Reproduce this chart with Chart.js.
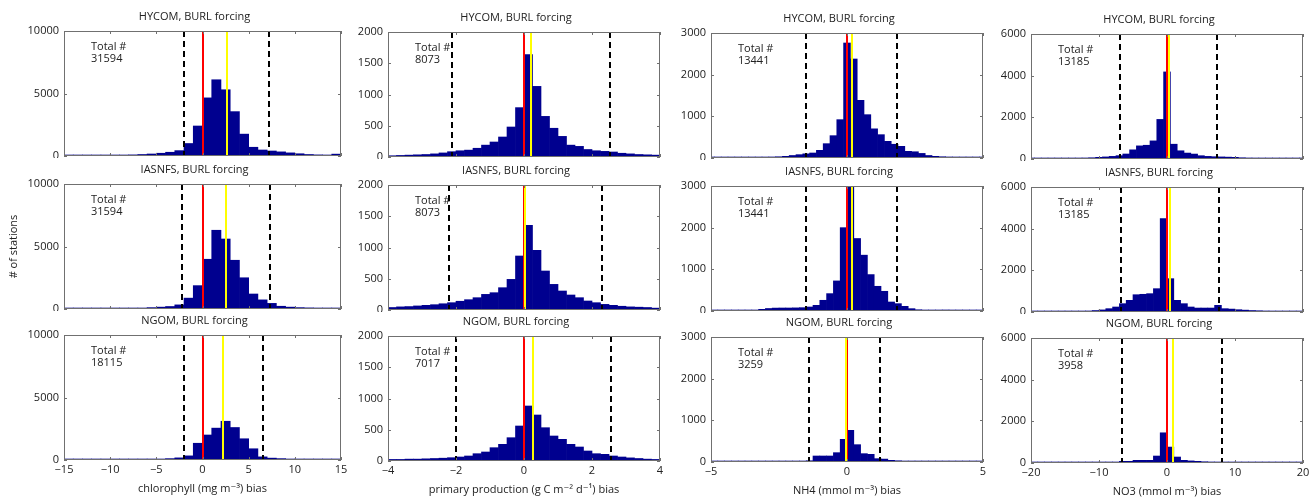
<!DOCTYPE html>
<html>
<head>
<meta charset="utf-8">
<script src="https://cdn.jsdelivr.net/npm/chart.js@4.4.1/dist/chart.umd.min.js"></script>
<style>
  html, body { margin: 0; padding: 0; background: #fff; }
  #fig { position: relative; width: 1314px; height: 502px; overflow: hidden; }
  #fig canvas { position: absolute; }
</style>
</head>
<body>
<div id="fig"></div>
<script>
// bin centres
const chlBins = [-14.5,-13.5,-12.5,-11.5,-10.5,-9.5,-8.5,-7.5,-6.5,-5.5,-4.5,-3.5,-2.5,-1.5,-0.5,
                 0.5,1.5,2.5,3.5,4.5,5.5,6.5,7.5,8.5,9.5,10.5,11.5,12.5,13.5,14.5];
const ppBins = [-3.875,-3.625,-3.375,-3.125,-2.875,-2.625,-2.375,-2.125,-1.875,-1.625,-1.375,-1.125,-0.875,-0.625,-0.375,-0.125,
                0.125,0.375,0.625,0.875,1.125,1.375,1.625,1.875,2.125,2.375,2.625,2.875,3.125,3.375,3.625,3.875];
const nh4Bins = [-5,-4.75,-4.5,-4.25,-4,-3.75,-3.5,-3.25,-3,-2.75,-2.5,-2.25,-2,-1.75,-1.5,-1.25,-1,-0.75,-0.5,-0.25,0,
                 0.25,0.5,0.75,1,1.25,1.5,1.75,2,2.25,2.5,2.75,3,3.25,3.5,3.75,4,4.25,4.5,4.75,5];
const nh4BinsHalf = [-4.875,-4.625,-4.375,-4.125,-3.875,-3.625,-3.375,-3.125,-2.875,-2.625,-2.375,-2.125,-1.875,-1.625,-1.375,-1.125,-0.875,-0.625,-0.375,-0.125,
                     0.125,0.375,0.625,0.875,1.125,1.375,1.625,1.875,2.125,2.375,2.625,2.875,3.125,3.375,3.625,3.875,4.125,4.375,4.625,4.875];
const no3Bins = [-20,-19,-18,-17,-16,-15,-14,-13,-12,-11,-10,-9,-8,-7,-6,-5,-4,-3,-2,-1,0,
                 1,2,3,4,5,6,7,8,9,10,11,12,13,14,15,16,17,18,19,20];
const no3BinsHalf = [-19.5,-18.5,-17.5,-16.5,-15.5,-14.5,-13.5,-12.5,-11.5,-10.5,-9.5,-8.5,-7.5,-6.5,-5.5,-4.5,-3.5,-2.5,-1.5,-0.5,
                     0.5,1.5,2.5,3.5,4.5,5.5,6.5,7.5,8.5,9.5,10.5,11.5,12.5,13.5,14.5,15.5,16.5,17.5,18.5,19.5];

// counts (# of stations)
const chlHycom  = [30,30,40,40,50,60,70,90,120,160,220,300,430,1000,2400,4650,6100,5300,3550,1750,700,480,400,330,250,180,120,90,70,150];
const chlIasnfs = [20,20,25,30,35,40,50,60,80,110,150,200,330,870,1870,3980,6300,5600,3900,2500,1200,730,450,220,150,110,90,70,60,60];
const chlNgom   = [10,10,15,15,20,25,30,40,50,60,80,110,170,330,1340,2000,2550,3100,2600,1700,900,250,150,110,80,60,40,30,20,20];

const ppHycom  = [20,25,30,35,40,50,65,85,100,110,140,190,240,320,480,790,1640,1130,650,460,330,190,170,120,100,90,80,60,50,40,35,30];
const ppIasnfs = [40,50,55,65,75,85,100,117,140,165,197,250,277,357,490,864,1355,955,624,410,304,240,197,144,117,90,75,60,50,45,40,30];
const ppNgom   = [25,25,30,30,35,40,45,53,64,80,117,144,213,267,373,560,880,736,533,400,347,267,224,160,117,107,80,64,50,40,30,25];

const nh4Hycom  = [5,5,5,10,10,10,15,15,20,25,30,40,60,80,100,120,184,344,536,920,2760,
                   2376,1384,1040,700,560,400,330,280,160,150,110,60,40,30,25,20,15,10,10,5];
const nh4Iasnfs = [5,5,5,10,10,15,20,40,60,70,72,72,75,80,96,136,257,417,722,2000,
                   3400,1740,1340,874,593,473,216,176,112,56,30,20,15,20,25,15,10,5,5,5];
const nh4Ngom   = [3,3,3,3,5,5,5,5,5,8,8,10,15,20,30,144,144,144,224,544,
                   760,416,200,184,80,70,40,30,20,15,10,10,8,8,5,5,5,3,3,3];

const no3Hycom  = [10,10,10,15,20,25,30,40,50,60,80,100,126,160,240,440,630,660,870,1900,4180,
                   710,395,285,237,158,126,110,100,90,80,60,50,45,40,35,30,25,20,15,10];
const no3Iasnfs = [10,10,15,15,20,25,30,40,50,70,100,160,240,400,560,830,850,880,1120,4480,
                   1600,560,400,240,190,190,190,320,160,140,110,90,70,60,50,40,30,25,20,15];
const no3Ngom   = [3,3,3,5,5,8,10,12,15,20,25,30,40,80,80,128,128,128,335,1450,
                   765,287,128,100,80,60,50,40,35,30,25,20,15,10,8,5,5,3,3,3];

// totals, mean bias (yellow) and dashed bounds, per model row
const models = ['HYCOM, BURL forcing', 'IASNFS, BURL forcing', 'NGOM, BURL forcing'];
const chlTotal = [31594, 31594, 18115];
const ppTotal  = [8073, 8073, 7017];
const nh4Total = [13441, 13441, 3259];
const no3Total = [13185, 13185, 3958];
const chlMean = [2.69, 2.56, 2.27];
const ppMean  = [0.2, 0.04, 0.27];
const nh4Mean = [0.18, 0.18, -0.03];
const no3Mean = [0.3, 0.4, 0.88];
const chlBounds = [[-2.0, 7.2], [-2.2, 7.26], [-2.0, 6.5]];
const ppBounds  = [[-2.13, 2.53], [-2.2, 2.3], [-2.0, 2.55]];
const nh4Bounds = [[-1.5, 1.83], [-1.49, 1.85], [-1.39, 1.22]];
const no3Bounds = [[-6.9, 7.4], [-6.8, 7.6], [-6.6, 8.1]];

// axis ranges per column
const xRanges = [[-15, 15, 5], [-4, 4, 2], [-5, 5, 5], [-20, 20, 10]];
const yRanges = [[10000, 5000], [2000, 500], [3000, 1000], [6000, 2000]];
const xTitles = ['chlorophyll (mg m\u207B\u00B3) bias',
                 'primary production (g C m\u207B\u00B2 d\u207B\u00B9) bias',
                 'NH4 (mmol m\u207B\u00B3) bias',
                 'NO3 (mmol m\u207B\u00B3) bias'];

const columns = [
  { bins: [chlBins, chlBins, chlBins], counts: [chlHycom, chlIasnfs, chlNgom], total: chlTotal, mean: chlMean, bounds: chlBounds },
  { bins: [ppBins, ppBins, ppBins], counts: [ppHycom, ppIasnfs, ppNgom], total: ppTotal, mean: ppMean, bounds: ppBounds },
  { bins: [nh4Bins, nh4BinsHalf, nh4BinsHalf], counts: [nh4Hycom, nh4Iasnfs, nh4Ngom], total: nh4Total, mean: nh4Mean, bounds: nh4Bounds },
  { bins: [no3Bins, no3BinsHalf, no3BinsHalf], counts: [no3Hycom, no3Iasnfs, no3Ngom], total: no3Total, mean: no3Mean, bounds: no3Bounds }
];

// layout of plot boxes on the page
const plotLeft = [64, 388, 711, 1031];
const plotRight = [341, 660, 983, 1303];
const rowTop = [32, 185, 336];
const colDy = [-1, 0, 1, 2];
const plotH = 125;
const FONT = '"Open Sans", "DejaVu Sans", sans-serif';
const TXT = '#222';

const decor = {
  id: 'decor',
  afterDatasetsDraw(chart, args, o) {
    const { ctx, chartArea: a, scales: { x, y } } = chart;
    ctx.save();
    ctx.font = '11px ' + FONT;
    ctx.fillStyle = TXT;
    ctx.textBaseline = 'middle';
    ctx.textAlign = 'center';
    ctx.fillText(o.title, (a.left + a.right) / 2 - 8, a.top - 14);
    ctx.textAlign = 'left';
    ctx.fillText('Total #', a.left + 27, a.top + 16);
    ctx.fillText(String(o.total), a.left + 27, a.top + 28);

    ctx.beginPath();
    ctx.rect(a.left, a.top, a.width, a.height);
    ctx.clip();
    const vline = (v, color, dash) => {
      const px = Math.round(x.getPixelForValue(v));
      ctx.strokeStyle = color;
      ctx.lineWidth = 2;
      ctx.setLineDash(dash);
      ctx.beginPath();
      ctx.moveTo(px, a.top);
      ctx.lineTo(px, a.bottom);
      ctx.stroke();
    };
    vline(o.lo, '#000', [6, 4]);
    vline(o.hi, '#000', [6, 4]);
    vline(0, '#ff0000', []);
    vline(o.mean, '#ffff00', []);
    ctx.restore();

    // box + inward ticks
    ctx.save();
    ctx.strokeStyle = '#707070';
    ctx.lineWidth = 1;
    ctx.strokeRect(a.left + 0.5, a.top + 0.5, a.width - 1, a.height - 1);
    ctx.beginPath();
    x.ticks.forEach(t => {
      const px = Math.round(x.getPixelForValue(t.value)) + 0.5;
      ctx.moveTo(px, a.bottom); ctx.lineTo(px, a.bottom - 3);
      ctx.moveTo(px, a.top); ctx.lineTo(px, a.top + 3);
    });
    y.ticks.forEach(t => {
      const py = Math.round(y.getPixelForValue(t.value)) + 0.5;
      ctx.moveTo(a.left, py); ctx.lineTo(a.left + 3, py);
      ctx.moveTo(a.right, py); ctx.lineTo(a.right - 3, py);
    });
    ctx.stroke();
    ctx.restore();
  }
};

const fig = document.getElementById('fig');

columns.forEach((col, c) => {
  for (let r = 0; r < 3; r++) {
    const cLeft = c === 0 ? 0 : plotLeft[c] - 44;
    const yW = plotLeft[c] - cLeft;
    const top = rowTop[r] + colDy[c];
    const xH = r === 2 ? 40 : 2;
    const cv = document.createElement('canvas');
    cv.width = plotRight[c] + 10 - cLeft;
    cv.height = 24 + plotH + xH;
    cv.style.left = cLeft + 'px';
    cv.style.top = (top - 24) + 'px';
    fig.appendChild(cv);

    const bins = col.bins[r];
    const counts = col.counts[r];
    const [xmin, xmax, xstep] = xRanges[c];
    const [ymax, ystep] = yRanges[c];

    new Chart(cv, {
      type: 'bar',
      data: {
        datasets: [{
          data: bins.map((b, i) => ({ x: b, y: counts[i] })),
          backgroundColor: '#00008f',
          borderWidth: 0,
          barPercentage: 1,
          categoryPercentage: 1,
          minBarLength: 1
        }]
      },
      options: {
        responsive: false,
        animation: false,
        events: [],
        layout: { padding: { top: 24, right: 10, bottom: 0, left: 0 } },
        plugins: {
          legend: { display: false },
          tooltip: { enabled: false },
          decor: {
            title: models[r],
            total: col.total[r],
            mean: col.mean[r],
            lo: col.bounds[r][0],
            hi: col.bounds[r][1]
          }
        },
        scales: {
          x: {
            type: 'linear',
            min: xmin,
            max: xmax,
            offset: false,
            grid: { display: false, drawTicks: false },
            border: { display: false },
            ticks: {
              display: r === 2,
              stepSize: xstep,
              padding: 3,
              autoSkip: false,
              maxRotation: 0,
              color: TXT,
              font: { family: FONT, size: 11 },
              callback: v => String(v).replace('-', '\u2212')
            },
            title: {
              display: r === 2,
              text: xTitles[c],
              color: TXT,
              font: { family: FONT, size: 11 },
              padding: { top: 0, bottom: 5 }
            },
            afterFit: s => { s.height = xH; s.paddingLeft = 0; s.paddingRight = 0; }
          },
          y: {
            min: 0,
            max: ymax,
            grid: { display: false, drawTicks: false },
            border: { display: false },
            ticks: {
              stepSize: ystep,
              padding: 5,
              color: TXT,
              font: { family: FONT, size: 11 },
              callback: v => String(v)
            },
            title: {
              display: r === 1 && c === 0,
              text: '# of stations',
              color: TXT,
              font: { family: FONT, size: 11 },
              padding: { top: 7, bottom: 0 }
            },
            afterFit: s => { s.width = yW; s.paddingTop = 0; s.paddingBottom = 0; }
          }
        }
      },
      plugins: [decor]
    });
  }
});
</script>
</body>
</html>
